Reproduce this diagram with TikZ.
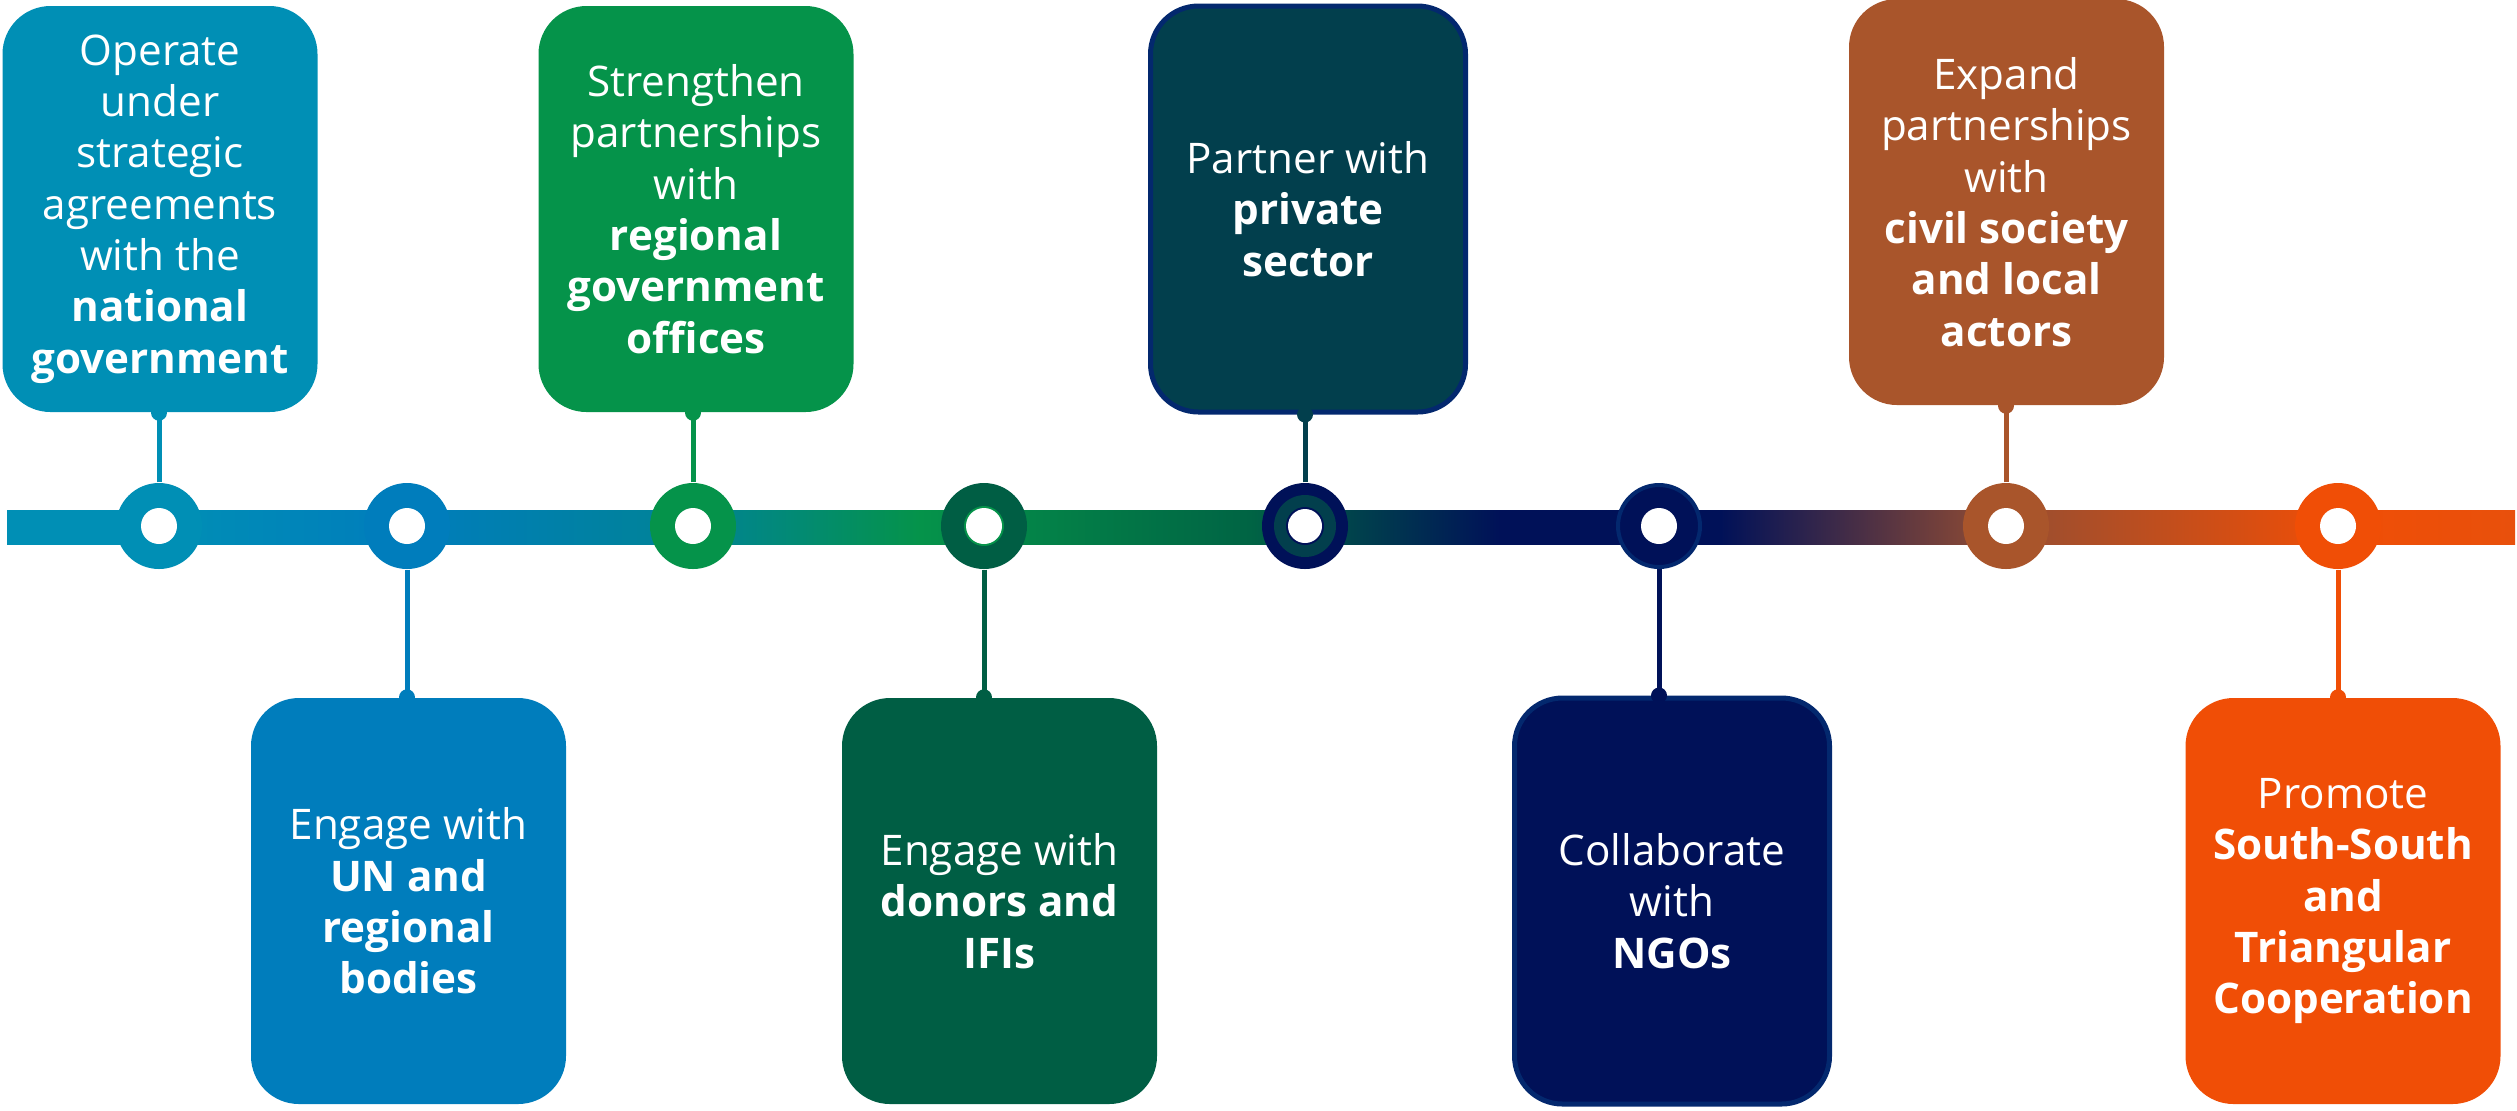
\documentclass[tikz,border=0pt]{standalone}
\usepackage{fontspec}
\setmainfont{Open Sans}
\definecolor{cOne}{RGB}{0,143,181}
\definecolor{cTwo}{RGB}{0,125,188}
\definecolor{cThree}{RGB}{5,147,74}
\definecolor{cFour}{RGB}{0,94,68}
\definecolor{cFive}{RGB}{2,63,77}
\definecolor{cSix}{RGB}{0,17,88}
\definecolor{cSeven}{RGB}{169,85,43}
\definecolor{cEight}{RGB}{240,78,6}
\definecolor{navyEdge}{RGB}{3,40,110}
\definecolor{barTeal}{RGB}{0,131,150}
\definecolor{barDark}{RGB}{0,100,68}
\definecolor{barRust}{RGB}{150,78,50}
\definecolor{barEnd}{RGB}{232,80,12}
\pgfdeclarehorizontalshading{barShade}{100bp}{color(0bp)=(cOne); color(25bp)=(cOne); color(28.03bp)=(cOne); color(32.97bp)=(cTwo); color(38.68bp)=(barTeal); color(43.2bp)=(cThree); color(49.78bp)=(barDark); color(54.76bp)=(cSix); color(59.15bp)=(cSix); color(64.85bp)=(barRust); color(71.47bp)=(cEight); color(75bp)=(barEnd); color(100bp)=(barEnd)}

\begin{document}
\begin{tikzpicture}[
	box/.style={rectangle, rounded corners=0.48cm, minimum width=3.15cm, minimum height=4.06cm, inner sep=0pt, text=white, align=center, font=\fontsize{12}{14.6}\selectfont},
	stop/.style={circle, minimum size=0.86cm, inner sep=0pt, fill=#1, path picture={\fill[white] (path picture bounding box.center) circle (0.18);}},
	link/.style={line width=0.05cm, draw=#1},
	]
	\useasboundingbox (0,0) rectangle (25.17,-11.10);

	\shade[shading=barShade] (0.07,-5.10) rectangle (25.15,-5.44);

	\node[box, fill=cOne] (b1) at (1.60,-2.09) {Operate\\under\\strategic\\agreements\\with the\\\textbf{national}\\\textbf{government}};
	\node[box, fill=cTwo] (b2) at (4.085,-9.01) {Engage with\\\textbf{UN and}\\\textbf{regional}\\\textbf{bodies}};
	\node[box, fill=cThree] (b3) at (6.96,-2.09) {Strengthen\\partnerships\\with\\\textbf{regional}\\\textbf{government}\\\textbf{offices}};
	\node[box, fill=cFour] (b4) at (9.995,-9.01) {Engage with\\\textbf{donors and}\\\textbf{IFIs}};
	\node[box, fill=cFive, draw=navyEdge, line width=0.05cm] (b5) at (13.08,-2.09) {Partner with\\\textbf{private}\\\textbf{sector}};
	\node[box, fill=cSix, draw=navyEdge, line width=0.05cm] (b6) at (16.72,-9.01) {Collaborate\\with\\\textbf{NGOs}};
	\node[box, fill=cSeven] (b7) at (20.065,-2.02) {Expand\\partnerships\\with\\\textbf{civil society}\\\textbf{and local}\\\textbf{actors}};
	\node[box, fill=cEight] (b8) at (23.43,-9.01) {Promote\\\textbf{South-South}\\\textbf{and}\\\textbf{Triangular}\\\textbf{Cooperation}};

	\node[stop=cOne] (c1) at (1.59,-5.26) {};
	\node[stop=cTwo] (c2) at (4.07,-5.26) {};
	\node[stop=cThree] (c3) at (6.93,-5.26) {};
	\node[stop=cFour] (c4) at (9.84,-5.26) {};
	\fill[cThree] (c4) circle (0.20);
	\fill[white] (c4) circle (0.18);
	\node[circle, minimum size=0.86cm, inner sep=0pt, fill=cSix] (c5) at (13.05,-5.26) {};
	\fill[cFive] (c5) circle (0.31);
	\fill[cSix] (c5) circle (0.19);
	\fill[white] (c5) circle (0.17);
	\node[stop=cSix, draw=navyEdge, line width=0.04cm, minimum size=0.82cm] (c6) at (16.59,-5.26) {};
	\node[stop=cSeven] (c7) at (20.06,-5.26) {};
	\node[stop=cEight] (c8) at (23.38,-5.26) {};

	\draw[link=cOne] (c1.north) -- (c1.north |- b1.south);
	\fill[cOne] (c1.north |- b1.south) circle (0.08);
	\draw[link=cTwo] (c2.south) -- (c2.south |- b2.north);
	\fill[cTwo] (c2.south |- b2.north) circle (0.08);
	\draw[link=cThree] (c3.north) -- (c3.north |- b3.south);
	\fill[cThree] (c3.north |- b3.south) circle (0.08);
	\draw[link=cFour] (c4.south) -- (c4.south |- b4.north);
	\fill[cFour] (c4.south |- b4.north) circle (0.08);
	\draw[link=cFive] (c5.north) -- (c5.north |- b5.south);
	\fill[cFive] (c5.north |- b5.south) circle (0.08);
	\draw[link=cSix] (c6.south) -- (c6.south |- b6.north);
	\fill[cSix] (c6.south |- b6.north) circle (0.08);
	\draw[link=cSeven] (c7.north) -- (c7.north |- b7.south);
	\fill[cSeven] (c7.north |- b7.south) circle (0.08);
	\draw[link=cEight] (c8.south) -- (c8.south |- b8.north);
	\fill[cEight] (c8.south |- b8.north) circle (0.08);
\end{tikzpicture}
\end{document}
